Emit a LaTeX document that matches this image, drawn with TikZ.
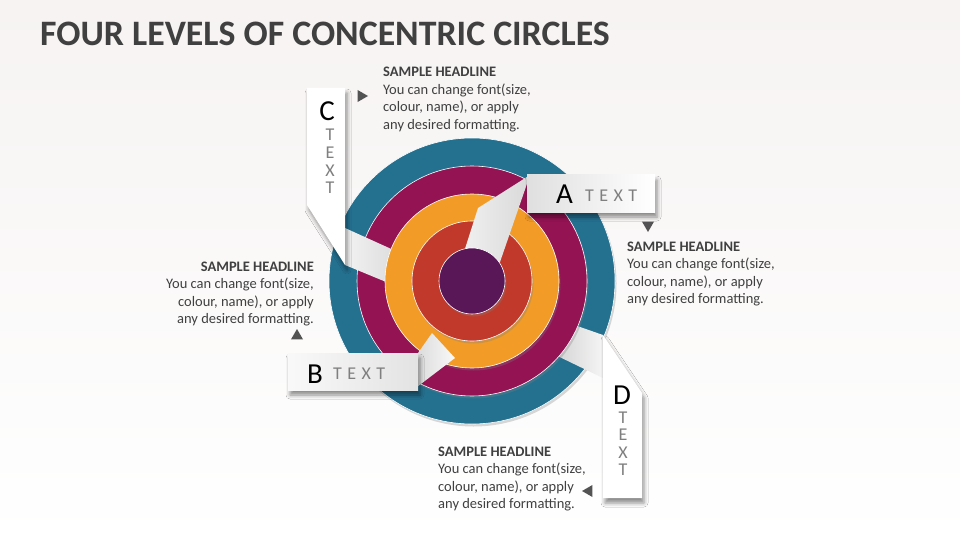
\documentclass[tikz,border=0pt]{standalone}
\usepackage{fontspec}
\setmainfont{Carlito}
\usetikzlibrary{shadows, shadows.blur}

\definecolor{bgtop}{HTML}{F6F3F2}
\definecolor{cblue}{HTML}{24708F}
\definecolor{cmag}{HTML}{931353}
\definecolor{corange}{HTML}{F29B26}
\definecolor{cred}{HTML}{C0392B}
\definecolor{cpurple}{HTML}{5A1758}
\definecolor{ink}{HTML}{404040}
\definecolor{soft}{HTML}{7F7F7F}

\tikzset{
  ring/.style={draw=white, line width=0.6pt,
    drop shadow={shadow xshift=1.5pt, shadow yshift=-2.5pt, opacity=.3}},
  fold/.style={left color=gray!40, right color=gray!8},
  tag/.style={fill=white, blur shadow={shadow xshift=2pt, shadow yshift=-5pt, shadow blur radius=4pt, shadow opacity=45}},
  big/.style={font=\fontsize{29}{29}\selectfont, inner sep=0pt},
  spaced/.style={font=\fontsize{18}{18}\selectfont\addfontfeatures{LetterSpace=30}, text=soft, inner sep=0pt},
  upright/.style={font=\fontsize{18}{18}\selectfont, text=soft, inner sep=0pt},
  blurb/.style={font=\fontsize{14.5}{17.5}\selectfont, text=ink, inner sep=0pt},
  tri/.style={fill=ink!90}
}

\begin{document}
\begin{tikzpicture}[x=1pt, y=-1pt]
\useasboundingbox (0,0) rectangle (960,540);
\shade[top color=bgtop, bottom color=white] (0,0) rectangle (960,540);
\node[anchor=base west, inner sep=0pt, text=ink, font=\fontsize{35.8}{36}\selectfont\bfseries]
  (title) at (40,46) {FOUR LEVELS OF CONCENTRIC CIRCLES};

% rings, with the ribbons tucked in between
\coordinate (O) at (472,281);
\path[ring, fill=cblue] (O) circle[radius=143pt];
\shade[fold] (603,335) -- (560,320) -- (545,350) -- (603,378) -- cycle;
\path[ring, fill=cmag] (O) circle[radius=115pt];
\shade[fold, left color=gray!10, right color=gray!35] (345,228) -- (420,262) -- (420,296) -- (345,265) -- cycle;
\path[ring, fill=corange] (O) circle[radius=87pt];
\shade[fold, left color=gray!30, right color=gray!5] (418,353) -- (432,333) -- (455,358) -- (413,390) -- cycle;
\path[tag, left color=gray!5, right color=gray!22] (288,353) rectangle (418,390);
\path[ring, fill=cred] (O) circle[radius=60pt];
\shade[fold, left color=gray!12, right color=gray!30] (530,175) -- (478,208) -- (463,255) -- (500,262) -- cycle;
\path[ring, fill=cpurple] (O) circle[radius=33pt];

% paper tags
\path[tag] (307,88) -- (345,88) -- (345,265) -- (307,205) -- cycle;
\path[tag] (603,335) -- (642,393) -- (642,498) -- (603,498) -- cycle;
\path[tag, left color=gray!25, right color=white] (527,175) rectangle (655,212);

\node[big, anchor=base west] (la) at (556,204) {A};
\node[spaced, anchor=base west] (ta) at (585,201) {TEXT};
\node[big, anchor=base west] (lb) at (307,383) {B};
\node[spaced, anchor=base west] (tb) at (333,379) {TEXT};
\node[big, anchor=base] (lc) at (327,121) {C};
\node[big, anchor=base] (ld) at (622,404) {D};
\foreach \l [count=\i] in {T,E,X,T} {
  \node[upright, anchor=base] (tc\i) at (330,123.5+17.5*\i) {\l};
  \node[upright, anchor=base] (td\i) at (623,405.5+17.5*\i) {\l};
}

% little pointers
\foreach \x/\y/\a in {361/96/0, 648/225/90, 297/336/-90, 589/491/180} {
  \fill[tri] (\x,\y) ++(\a:7) -- ++(\a+150:12.1) -- ++(\a+270:12.1) -- cycle;
}

% texts (base = last line)
\node[blurb, anchor=base west, align=left] (hc) at (383,129.5)
  {\textbf{SAMPLE HEADLINE}\\You can change font(size,\\colour, name), or apply\\any desired formatting.};
\node[blurb, anchor=base west, align=left] (ha) at (627,303.5)
  {\textbf{SAMPLE HEADLINE}\\You can change font(size,\\colour, name), or apply\\any desired formatting.};
\node[blurb, anchor=base east, align=right] (hb) at (314,323.5)
  {\textbf{SAMPLE HEADLINE}\\You can change font(size,\\colour, name), or apply\\any desired formatting.};
\node[blurb, anchor=base west, align=left] (hd) at (438,508.5)
  {\textbf{SAMPLE HEADLINE}\\You can change font(size,\\colour, name), or apply\\any desired formatting.};
\end{tikzpicture}
\end{document}
